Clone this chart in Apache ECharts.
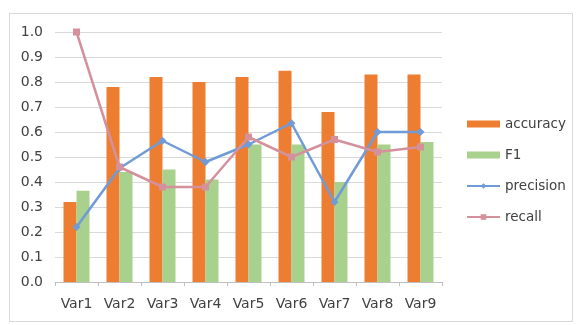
<!DOCTYPE html>
<html>
<head>
<meta charset="utf-8">
<script src="https://cdn.jsdelivr.net/npm/echarts@6/dist/echarts.min.js"></script>
<style>
  html, body { margin: 0; padding: 0; background: #fff; }
  #frame { position: absolute; left: 9px; top: 13px; width: 564px; height: 309px; border: 1px solid #d9d9d9; box-sizing: border-box; }
  #chart { position: absolute; left: 0; top: 0; width: 582px; height: 325px; }
</style>
</head>
<body>
<div id="frame"></div>
<div id="chart"></div>
<script>
const categories = ['Var1', 'Var2', 'Var3', 'Var4', 'Var5', 'Var6', 'Var7', 'Var8', 'Var9'];
const accuracy  = [0.32, 0.78, 0.82, 0.80, 0.82, 0.845, 0.68, 0.83, 0.83];
const f1        = [0.365, 0.44, 0.45, 0.41, 0.55, 0.55, 0.40, 0.55, 0.56];
const precision = [0.22, 0.455, 0.565, 0.48, 0.55, 0.635, 0.32, 0.60, 0.60];
const recall    = [1.0, 0.46, 0.38, 0.38, 0.58, 0.50, 0.57, 0.52, 0.54];
const yTicks = { min: 0, max: 1, step: 0.1 };

const chart = echarts.init(document.getElementById('chart'), null, { renderer: 'canvas' });
const textColor = '#404040';
const font = 'DejaVu Sans, Verdana, sans-serif';

chart.setOption({
  animation: false,
  backgroundColor: 'transparent',
  textStyle: { fontFamily: font },
  grid: { left: 55, right: 140, top: 32, bottom: 43 },
  legend: {
    orient: 'vertical',
    left: 461,
    top: 112,
    itemWidth: 33,
    itemHeight: 7,
    itemGap: 17,
    textStyle: { color: textColor, fontSize: 13.5, fontFamily: font },
    data: [
      { name: 'accuracy', icon: 'rect' },
      { name: 'F1', icon: 'rect' },
      { name: 'precision' },
      { name: 'recall' }
    ]
  },
  xAxis: {
    type: 'category',
    data: categories,
    axisLine: { lineStyle: { color: '#bfbfbf' } },
    axisTick: { show: true, alignWithLabel: false, length: 4, lineStyle: { color: '#bfbfbf' } },
    axisLabel: { color: textColor, fontSize: 14, margin: 15 }
  },
  yAxis: {
    type: 'value',
    min: yTicks.min,
    max: yTicks.max,
    interval: yTicks.step,
    axisLine: { show: false },
    axisTick: { show: false },
    axisLabel: { color: textColor, fontSize: 14, margin: 12, formatter: v => v.toFixed(1) },
    splitLine: { lineStyle: { color: '#d9d9d9' } }
  },
  series: [
    {
      name: 'accuracy', type: 'bar', data: accuracy,
      barWidth: 13, barGap: '0%',
      itemStyle: { color: '#ED7D31' }
    },
    {
      name: 'F1', type: 'bar', data: f1,
      barWidth: 13, barGap: '0%',
      itemStyle: { color: '#A9D18E' }
    },
    {
      name: 'precision', type: 'line', data: precision,
      symbol: 'diamond', symbolSize: 8,
      lineStyle: { color: '#6F9BD8', width: 2.5 },
      itemStyle: { color: '#6F9BD8' }
    },
    {
      name: 'recall', type: 'line', data: recall,
      symbol: 'rect', symbolSize: 7,
      lineStyle: { color: '#D4919C', width: 2.5 },
      itemStyle: { color: '#D4919C' }
    }
  ]
});
</script>
</body>
</html>
